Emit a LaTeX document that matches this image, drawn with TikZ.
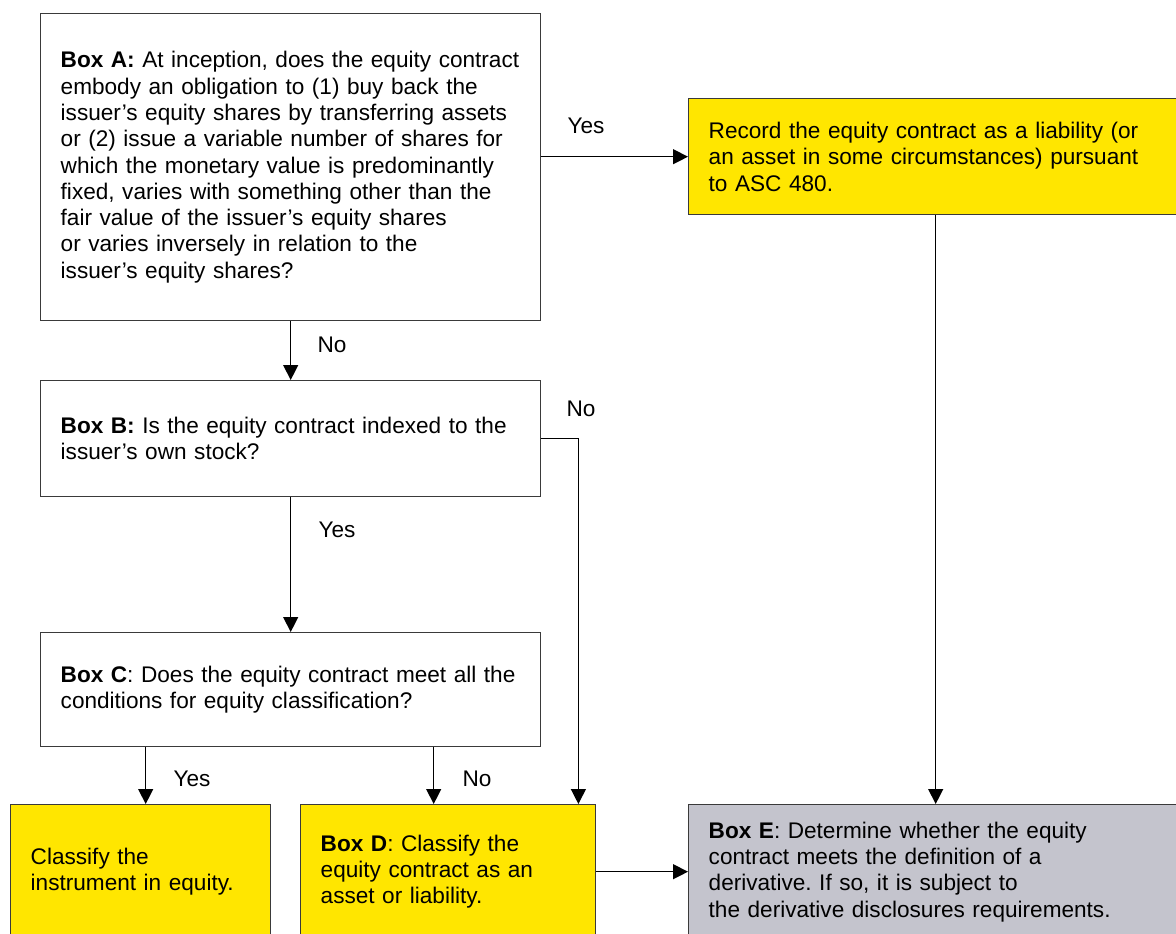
\documentclass[tikz,border=0pt]{standalone}
\usepackage{fontspec}
\setmainfont{Liberation Sans}
\usetikzlibrary{arrows.meta}
\definecolor{eyyellow}{HTML}{FFE600}
\definecolor{eygray}{HTML}{C4C4CD}
\definecolor{edge}{HTML}{3A3A3A}
\frenchspacing
\begin{document}
\begin{tikzpicture}[x=1pt,y=-1pt,
  box/.style={draw=edge, line width=1.4pt, anchor=north west, inner xsep=20pt, inner ysep=0pt,
    align=left, font=\fontsize{22.6}{26.3}\selectfont},
  arr/.style={draw=black, line width=1.3pt, -{Triangle[length=15pt,width=15pt]}},
  lbl/.style={font=\fontsize{22.6}{24}\selectfont, inner sep=0pt}]
\useasboundingbox (0,0) rectangle (1176,934);
\clip (0,0) rectangle (1176,934);
\node[box, text width=460pt, minimum height=307pt] (A) at (40,13)
 {\textbf{Box A:} At inception, does the equity contract\\
  embody an obligation to (1) buy back the\\
  issuer’s equity shares by transferring assets\\
  or (2) issue a variable number of shares for\\
  which the monetary value is predominantly\\
  fixed, varies with something other than the\\
  fair value of the issuer’s equity shares\\
  or varies inversely in relation to the\\
  issuer’s equity shares?};
\node[box, fill=eyyellow, text width=454pt, minimum height=116pt] (R) at (688,98)
 {Record the equity contract as a liability (or\\
  an asset in some circumstances) pursuant\\
  to ASC 480.};
\node[box, text width=460pt, minimum height=116pt] (B) at (40,380)
 {\textbf{Box B:} Is the equity contract indexed to the\\
  issuer’s own stock?};
\node[box, text width=460pt, minimum height=114pt] (C) at (40,632)
 {\textbf{Box C}: Does the equity contract meet all the\\
  conditions for equity classification?};
\node[box, fill=eyyellow, text width=220pt, minimum height=134pt] (Cl) at (10,804)
 {Classify the\\ instrument in equity.};
\node[box, fill=eyyellow, text width=255pt, minimum height=134pt] (D) at (300,804)
 {\textbf{Box D}: Classify the\\ equity contract as an\\ asset or liability.};
\node[box, fill=eygray, text width=454pt, minimum height=134pt] (E) at (688,804)
 {\textbf{Box E}: Determine whether the equity\\
  contract meets the definition of a\\
  derivative. If so, it is subject to\\
  the derivative disclosures requirements.};
\coordinate (cyes) at ([xshift=5pt]Cl.north);
\coordinate (cno) at ([xshift=-14.5pt]D.north);
\coordinate (bno) at ([xshift=-18pt]D.north east);
\draw[arr] (A.east |- R.west) -- (R.west);
\draw[arr] (R.south) -- (E.north);
\draw[arr] (A.south) -- (B.north);
\draw[arr] (B.east) -| (bno);
\draw[arr] (B.south) -- (C.north);
\draw[arr] (C.south -| cyes) -- (cyes);
\draw[arr] (C.south -| cno) -- (cno);
\draw[arr] (D.east) -- (E.west);
\node[lbl] (l1) at (586,126) {Yes};
\node[lbl] (l2) at (332,345) {No};
\node[lbl] (l3) at (581,409) {No};
\node[lbl] (l4) at (337,530) {Yes};
\node[lbl] (l5) at (192,779) {Yes};
\node[lbl] (l6) at (477,779) {No};
\end{tikzpicture}
\end{document}
